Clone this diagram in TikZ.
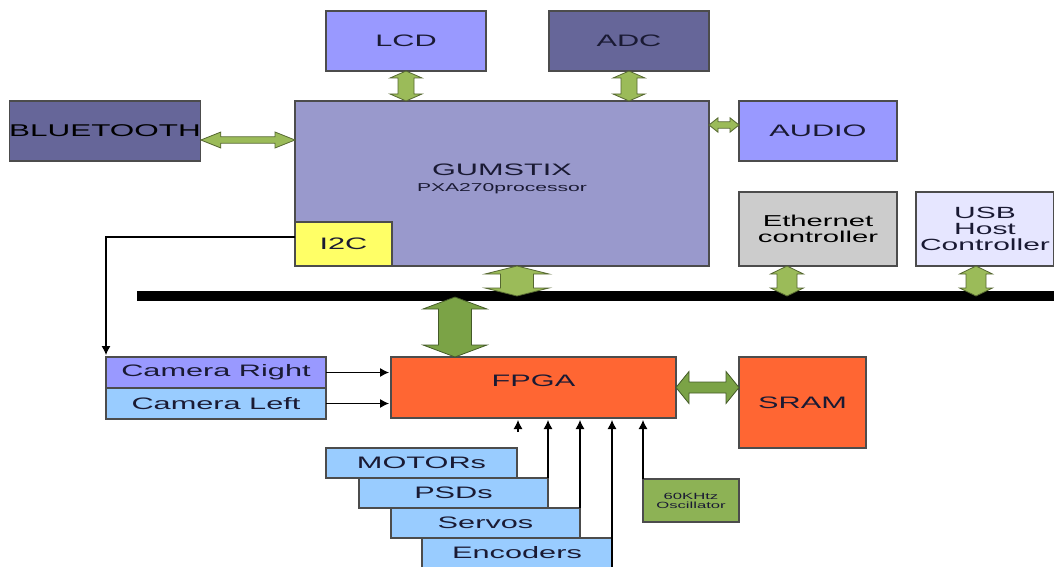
\documentclass[tikz,border=0pt]{standalone}
\usepackage{fontspec}
\setmainfont{Liberation Sans}[FakeStretch=1.85]
\usetikzlibrary{arrows.meta,calc}

\definecolor{periw}{HTML}{9999FF}
\definecolor{slate}{HTML}{666699}
\definecolor{gumcol}{HTML}{9999CC}
\definecolor{i2ccol}{HTML}{FFFF66}
\definecolor{ethcol}{HTML}{CCCCCC}
\definecolor{usbcol}{HTML}{E6E6FF}
\definecolor{fpgacol}{HTML}{FF6633}
\definecolor{skycol}{HTML}{99CCFF}
\definecolor{osccol}{HTML}{8DB255}
\definecolor{lgreen}{HTML}{9BBB59}
\definecolor{dgreen}{HTML}{7BA346}
\definecolor{txtcol}{HTML}{1A1A33}

% vertical double arrow: style, top point, bottom point, shaft half, head half, head length (pt)
\newcommand{\vbiarrow}[6]{%
  \filldraw[#1] let \p1=(#2), \p2=(#3) in
    (\x1,\y1) -- (\x1+#5pt,\y1-#6pt) -- (\x1+#4pt,\y1-#6pt) -- (\x1+#4pt,\y2+#6pt)
    -- (\x1+#5pt,\y2+#6pt) -- (\x1,\y2) -- (\x1-#5pt,\y2+#6pt) -- (\x1-#4pt,\y2+#6pt)
    -- (\x1-#4pt,\y1-#6pt) -- (\x1-#5pt,\y1-#6pt) -- cycle;}
% horizontal double arrow: style, left point, right point, shaft half, head half, head length (pt)
\newcommand{\hbiarrow}[6]{%
  \filldraw[#1] let \p1=(#2), \p2=(#3) in
    (\x1,\y1) -- (\x1+#6pt,\y1+#5pt) -- (\x1+#6pt,\y1+#4pt) -- (\x2-#6pt,\y1+#4pt)
    -- (\x2-#6pt,\y1+#5pt) -- (\x2,\y1) -- (\x2-#6pt,\y1-#5pt) -- (\x2-#6pt,\y1-#4pt)
    -- (\x1+#6pt,\y1-#4pt) -- (\x1+#6pt,\y1-#5pt) -- cycle;}

\begin{document}
\begin{tikzpicture}[x=0.5pt,y=-0.5pt,
  blk/.style={draw=black!70, line width=0.6pt, inner sep=0pt, outer sep=0pt,
    text=txtcol, font=\fontsize{8.3}{8}\selectfont, align=center},
  busbar/.style={fill=black, inner sep=0pt, outer sep=0pt, minimum width=458.5pt, minimum height=5pt},
  sig/.style={-{Latex[length=4.5pt,width=4.5pt]}, line width=0.55pt, shorten >=1pt},
  gbar/.style={fill=lgreen, draw=lgreen!55!black, line width=0.4pt},
  gbarbig/.style={fill=dgreen, draw=dgreen!55!black, line width=0.4pt}]

\useasboundingbox (0,0) rectangle (1054,567);
\clip (0,0) rectangle (1054,567);

% === TOP ROW ===
\node[blk, fill=periw, minimum width=80pt, minimum height=30pt] (lcd) at (406,41) {LCD};
\node[blk, fill=slate, minimum width=80pt, minimum height=30pt] (adc) at (629,41) {ADC};
\node[blk, fill=slate, text=black, minimum width=95pt, minimum height=30pt,
  font=\fontsize{8.5}{8}\selectfont] (bt) at (105,131) {BLUETOOTH};

% === PROCESSOR ===
\node[blk, fill=gumcol, minimum width=207pt, minimum height=82.5pt] (gum) at (502,183.5) {};
\node[text=txtcol, align=center, inner sep=0pt, font=\fontsize{8.3}{8}\selectfont] (gumtxt)
  at ($(gum.center)+(0,-5)$) {GUMSTIX\\{\fontsize{5.7}{6}\selectfont PXA270processor}};
\node[blk, fill=i2ccol, minimum width=48.5pt, minimum height=22pt] (i2c) at (343.5,244) {I2C};

% === PERIPHERALS RIGHT ===
\node[blk, fill=periw, minimum width=79pt, minimum height=30pt] (audio) at (818,131) {AUDIO};
\node[blk, fill=ethcol, text=black, minimum width=79pt, minimum height=37pt,
  font=\fontsize{7.9}{8}\selectfont] (eth) at (818,229) {Ethernet\\controller};
\node[blk, fill=usbcol, minimum width=69pt, minimum height=37pt,
  font=\fontsize{8.1}{8}\selectfont] (usb) at (985,229) {USB\\Host\\Controller};

% === BUS ===
\node[busbar] (bus) at (595.5,296) {};
\coordinate (tapgum) at (517,296);
\coordinate (tapeth) at (787,296);
\coordinate (tapusb) at (976,296);
\coordinate (tapfpga) at (455,297);

% === FPGA SIDE ===
\node[blk, fill=fpgacol, minimum width=142.5pt, minimum height=30.5pt] (fpga) at (533.5,387.5) {};
\node[text=txtcol, inner sep=0pt, font=\fontsize{8.3}{8}\selectfont] (fpgatxt)
  at ($(fpga.center)+(0,-7)$) {FPGA};
\node[blk, fill=fpgacol, minimum width=63.5pt, minimum height=45.5pt] (sram) at (802.5,402.5) {SRAM};
\node[blk, fill=periw, minimum width=110pt, minimum height=15.5pt] (camR) at (216,372.5) {Camera Right};
\node[blk, fill=skycol, minimum width=110pt, minimum height=15.5pt] (camL) at (216,403.5) {Camera Left};

% === SENSORS / ACTUATORS ===
\node[blk, fill=skycol, minimum width=95.5pt, minimum height=15pt] (motors) at (421.5,463) {MOTORs};
\node[blk, fill=skycol, minimum width=94.5pt, minimum height=15pt] (psds) at (453.5,493) {PSDs};
\node[blk, fill=skycol, minimum width=94.5pt, minimum height=15pt] (servos) at (485.5,523) {Servos};
\node[blk, fill=skycol, minimum width=95pt, minimum height=15pt] (enc) at (517,553) {Encoders};
\node[blk, fill=osccol, minimum width=48pt, minimum height=21.5pt,
  font=\fontsize{4.5}{4.6}\selectfont] (osc) at (691,500.5) {60KHtz\\Oscillator};
\coordinate (motin) at (518,432);

% === DATA ARROWS ===
\vbiarrow{gbar}{lcd.south}{gum.north}{4}{8}{3.5}
\vbiarrow{gbar}{adc.south}{gum.north}{4}{8}{3.5}
\hbiarrow{gbar}{$(bt.east)+(0,9)$}{gum.west}{1.6}{4}{10}
\hbiarrow{gbar}{$(gum.east |- audio.west)+(0,-6)$}{audio.west}{1.6}{3.6}{4.5}
\vbiarrow{gbar}{tapgum |- gum.south}{tapgum}{8.25}{16}{4}
\vbiarrow{gbar}{tapeth |- eth.south}{tapeth}{5}{8.25}{4}
\vbiarrow{gbar}{tapusb |- usb.south}{tapusb}{5}{8.25}{4}
\vbiarrow{gbarbig}{tapfpga}{tapfpga |- fpga.north}{8.25}{16}{6}
\hbiarrow{gbarbig}{fpga.east}{sram.west}{2.75}{8}{6.5}

% === SIGNAL LINES ===
\draw[sig] ($(i2c.west)+(0,-7)$) -| (camR.north west);
\draw[sig] (camR.east) -- (camR.east -| fpga.west);
\draw[sig] (camL.east) -- (camL.east -| fpga.west);
\draw[sig] (motin) -- (motin |- fpga.south);
\draw[sig] (psds.north east) -- (psds.north east |- fpga.south);
\draw[sig] (servos.north east) -- (servos.north east |- fpga.south);
\draw[sig] (enc.south east) -- (enc.south east |- fpga.south);
\draw[sig] (osc.north west) -- (osc.north west |- fpga.south);

\end{tikzpicture}
\end{document}
